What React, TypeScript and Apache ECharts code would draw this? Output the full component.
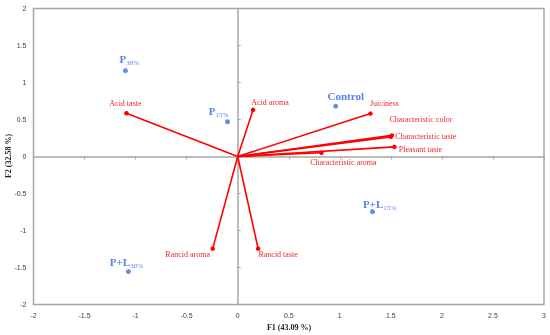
import React, { useEffect, useRef } from "react";
import * as echarts from "echarts";

// Observations (blue)
const obsMain = ["P", "P", "Control", "P+L", "P+L"];
const obsSub = ["30%", "15%", "", "15%", "30%"];
const obsX = [-1.1, -0.1, 0.96, 1.32, -1.07];
const obsY = [1.16, 0.47, 0.68, -0.745, -1.555];

// Variables (red vectors)
const varNames = [
  "Acid taste",
  "Acid aroma",
  "Juiciness",
  "Characteristic color",
  "Characteristic taste",
  "Pleasant taste",
  "Characteristic aroma",
  "Rancid aroma",
  "Rancid taste",
];
const varX = [-1.09, 0.15, 1.3, 1.51, 1.5, 1.535, 0.82, -0.245, 0.2];
const varY = [0.585, 0.63, 0.58, 0.285, 0.265, 0.13, 0.05, -1.245, -1.245];

const xTicks = { min: -2, max: 3, interval: 0.5 };
const yTicks = { min: -2, max: 2, interval: 0.5 };
const xTitle = "F1 (43.09 %)";
const yTitle = "F2 (32.58 %)";

// label placement (offset from point to label centre, px)
const varLabelOffset: [number, number][] = [
  [-1, -10],
  [17, -7],
  [14, -10.5],
  [29, -16],
  [35, 0],
  [26, 3],
  [22, 10],
  [-25, 6],
  [20, 6],
];
const obsLabelOffset: [number, number][] = [
  [4, -11],
  [-9, -10],
  [10, -10],
  [7, -7],
  [-2, -9],
];

const RED = "#ff0000";
const RED_TXT = "#f0262b";
const BLUE = "#3d6fe8";
const BLUE_TXT = "#2f62e6";
const GRAY = "#a6a6a6";
const SERIF = "'Liberation Serif', 'DejaVu Serif', serif";
const SANS = "'Liberation Sans', 'DejaVu Sans', sans-serif";

export default function App() {
  const ref = useRef<HTMLDivElement>(null);
  useEffect(() => {
    if (!ref.current) return;
    const chart = echarts.init(ref.current, undefined, { renderer: "svg" });

    const vecSeries = varNames.map((name, i) => ({
      type: "line",
      name,
      xAxisIndex: 0,
      yAxisIndex: 0,
      symbol: "circle",
      symbolSize: (_v: any, p: any) => (p.dataIndex === 0 ? 0 : 4.5),
      showAllSymbol: true,
      lineStyle: { color: RED, width: 1.6 },
      itemStyle: { color: RED },
      emphasis: { disabled: true },
      z: 3,
      data: [
        [0, 0],
        {
          value: [varX[i], varY[i]],
          label: {
            show: true,
            position: "inside",
            offset: varLabelOffset[i],
            formatter: name,
            color: RED_TXT,
            textBorderWidth: 0,
            fontFamily: SERIF,
            fontSize: 8,
            align: "center",
            verticalAlign: "middle",
          },
        },
      ],
    }));

    const blueText = {
      fontFamily: SERIF,
      color: BLUE_TXT,
      textBorderWidth: 0,
    };
    const obsData = obsMain.map((m, i) => ({
      value: [obsX[i], obsY[i]],
      label: {
        show: true,
        position: "inside",
        offset: obsLabelOffset[i],
        formatter: obsSub[i] ? `{m|${m}}{s|${obsSub[i]}}` : `{c|${m}}`,
        align: "center",
        verticalAlign: "middle",
        color: BLUE_TXT,
        textBorderWidth: 0,
        rich: {
          m: { ...blueText, fontWeight: "bold", fontSize: 11, lineHeight: 13, verticalAlign: "bottom", padding: [0, 0, 2, 0] },
          s: { ...blueText, fontSize: 7, lineHeight: 13, verticalAlign: "bottom" },
          c: { ...blueText, fontWeight: "bold", fontSize: 11 },
        },
      },
    }));

    const axisLabelStyle = {
      fontFamily: SANS,
      fontSize: 7,
      color: "#404040",
    };

    chart.setOption({
      animation: false,
      grid: {
        left: 33.5,
        right: 6,
        top: 8.5,
        bottom: 30.5,
        show: true,
        borderColor: GRAY,
        borderWidth: 1.5,
        containLabel: false,
        outerBoundsMode: "none",
      },
      graphic: [
        {
          type: "text",
          x: 289,
          y: 327,
          style: {
            text: xTitle,
            fontFamily: SERIF,
            fontWeight: "bold",
            fontSize: 8,
            fill: "#222",
            align: "center",
            verticalAlign: "middle",
          },
        },
        {
          type: "text",
          x: 8,
          y: 156,
          rotation: Math.PI / 2,
          style: {
            text: yTitle,
            fontFamily: SERIF,
            fontWeight: "bold",
            fontSize: 8,
            fill: "#222",
            align: "center",
            verticalAlign: "middle",
          },
        },
      ],
      xAxis: [
        {
          type: "value",
          ...xTicks,
          position: "bottom",
          axisLine: { show: false, onZero: false },
          axisTick: { show: false },
          splitLine: { show: false },
          axisLabel: { ...axisLabelStyle, margin: 7 },
        },
        {
          type: "value",
          ...xTicks,
          axisLine: { show: true, onZero: true, onZeroAxisIndex: 0, lineStyle: { color: GRAY, width: 1.5 } },
          axisTick: { show: true, inside: true, length: 3, lineStyle: { color: GRAY } },
          splitLine: { show: false },
          axisLabel: { show: false },
        },
      ],
      yAxis: [
        {
          type: "value",
          ...yTicks,
          position: "left",
          axisLine: { show: false, onZero: false },
          axisTick: { show: false },
          splitLine: { show: false },
          axisLabel: { ...axisLabelStyle, margin: 7 },
        },
        {
          type: "value",
          ...yTicks,
          axisLine: { show: true, onZero: true, onZeroAxisIndex: 0, lineStyle: { color: GRAY, width: 1.5 } },
          axisTick: { show: true, inside: false, length: 3, lineStyle: { color: GRAY } },
          splitLine: { show: false },
          axisLabel: { show: false },
        },
      ],
      series: [
        ...vecSeries,
        {
          type: "scatter",
          xAxisIndex: 0,
          yAxisIndex: 0,
          symbolSize: 5,
          itemStyle: { color: BLUE },
          emphasis: { disabled: true },
          z: 4,
          data: obsData,
        },
      ],
    });
    return () => chart.dispose();
  }, []);
  return (
    <div
      ref={ref}
      style={{ position: "fixed", left: 0, top: 0, width: 550, height: 335 }}
    />
  );
}
